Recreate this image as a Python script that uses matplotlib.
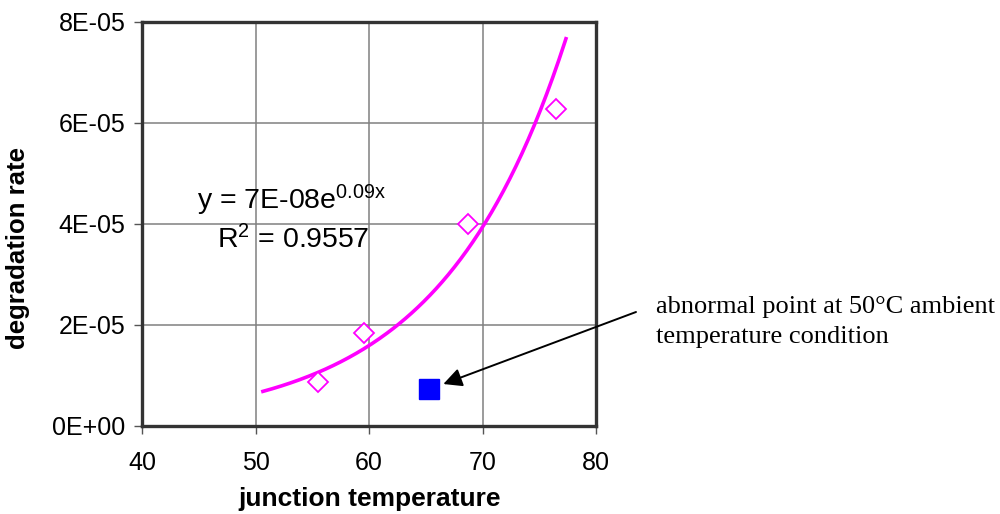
import numpy as np
import matplotlib
matplotlib.use("Agg")
import matplotlib.pyplot as plt
from matplotlib.ticker import FuncFormatter

# ---- data ----
junction_temp = [55.5, 59.6, 68.7, 76.45]
degradation = [8.7e-6, 1.83e-5, 4.0e-5, 6.27e-5]
abnormal_temp = [65.26]
abnormal_rate = [7.3e-6]
x_ticks = [40, 50, 60, 70, 80]
y_ticks = [0, 2e-5, 4e-5, 6e-5, 8e-5]
trend_range = [50.5, 77.4]
eq_text = "y = 7E-08e"
eq_sup = "0.09x"
r2_text = "= 0.9557"
annot_lines = ["abnormal point at 50\u00b0C ambient", "temperature condition"]

plt.rcParams['font.family'] = ['Liberation Sans', 'DejaVu Sans']
plt.rcParams['mathtext.fontset'] = 'custom'
plt.rcParams['mathtext.rm'] = 'Liberation Sans'
plt.rcParams['mathtext.it'] = 'Liberation Sans'

fig = plt.figure(figsize=(10, 5.14), dpi=100)
ax = fig.add_axes([0.142, 0.1718, 0.454, 0.7854])

# exponential trendline fitted to the diamond points
b, ln_a = np.polyfit(junction_temp, np.log(degradation), 1)
xt = np.linspace(trend_range[0], trend_range[1], 200)
yt = np.exp(ln_a) * np.exp(b * xt)
ax.plot(xt, yt, color='#FF00FF', lw=2.6, zorder=3, solid_capstyle='butt')

ax.plot(junction_temp, degradation, linestyle='none', marker='D', markersize=10.5,
        markerfacecolor='white', markeredgecolor='#FF00FF', markeredgewidth=1.3, zorder=4)
ax.plot(abnormal_temp, abnormal_rate, linestyle='none', marker='s', markersize=14,
        markerfacecolor='#0000FF', markeredgecolor='#0000FF', zorder=4)

ax.set_xlim(x_ticks[0], x_ticks[-1])
ax.set_ylim(y_ticks[0], y_ticks[-1])
ax.set_xticks(x_ticks)
ax.set_yticks(y_ticks)
ax.yaxis.set_major_formatter(FuncFormatter(lambda v, p: format(v, '.0E')))
ax.grid(True, color='#808080', lw=1.1)
ax.set_axisbelow(True)
for s in ax.spines.values():
    s.set_color('#333333')
    s.set_linewidth(2.4)
ax.tick_params(axis='both', direction='out', length=6, width=1.0, color='#555555',
               labelsize=18)
ax.tick_params(axis='x', pad=12)
ax.tick_params(axis='y', pad=6)

# equation text
fig.text(0.197, 0.5934, eq_text + r"$^{\mathrm{" + eq_sup + "}}$", fontsize=20.5,
         ha='left', va='baseline')
fig.text(0.217, 0.5175, r"R$^{\mathrm{2}}$ " + r2_text, fontsize=20.5,
         ha='left', va='baseline')

# axis labels
fig.text(0.37, 0.0156, "junction temperature", fontsize=19, fontweight='bold',
         ha='center', va='baseline')
fig.text(0.018, 0.518, "degradation rate", fontsize=18.5, fontweight='bold',
         ha='center', va='center', rotation=90)

# annotation
ax.annotate("", xy=(66.55, 0.826e-5), xycoords='data',
            xytext=(0.636, 1 - 312 / 514), textcoords='figure fraction',
            arrowprops=dict(arrowstyle='-|>', mutation_scale=28, lw=1.4,
                            color='black', shrinkA=0, shrinkB=0),
            annotation_clip=False)
for i, line in enumerate(annot_lines):
    fig.text(0.656, 1 - (313 + 30 * i) / 514, line, fontsize=19,
             family=['Liberation Serif', 'DejaVu Serif'], ha='left', va='baseline')

fig.savefig("out.png", dpi=100)
